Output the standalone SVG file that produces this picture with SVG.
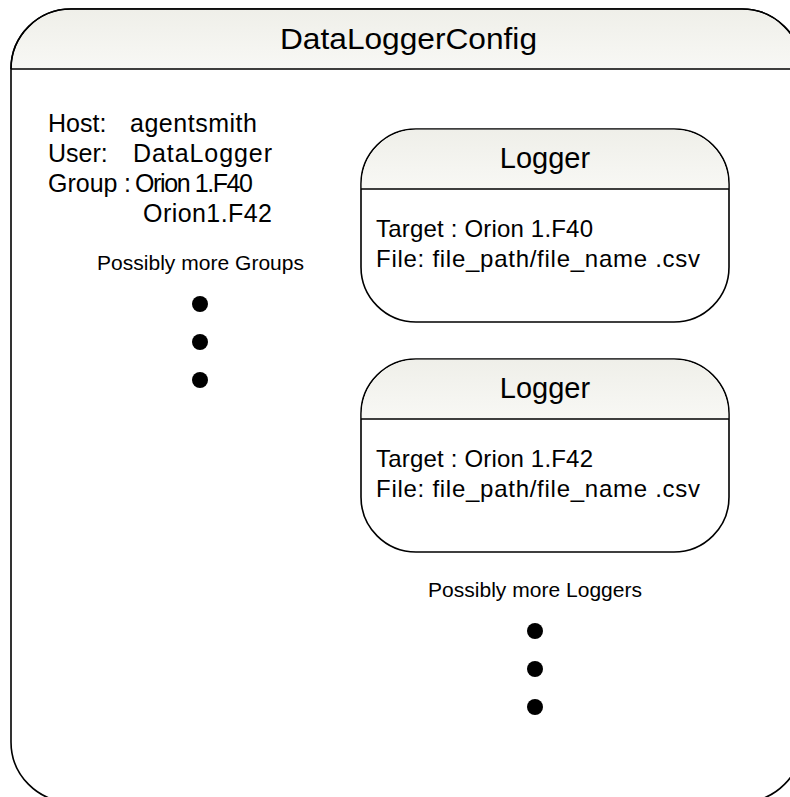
<svg xmlns="http://www.w3.org/2000/svg" width="790" height="797" viewBox="0 0 790 797">
  <defs>
    <linearGradient id="hdrFill" x1="0" y1="0" x2="0" y2="1">
      <stop offset="0" stop-color="#efefe9"/>
      <stop offset="1" stop-color="#f8f8f5"/>
    </linearGradient>
    <style>
      .frame { fill: #ffffff; stroke: #000000; stroke-width: 1.6; }
      .hdr { fill: url(#hdrFill); stroke: none; }
      .sep { stroke: #000000; stroke-width: 1.6; fill: none; }
      text { font-family: "Liberation Sans", Arial, sans-serif; fill: #000000; }
      .title { font-size: 30px; text-anchor: middle; }
      .name { font-size: 29px; text-anchor: middle; }
      .attr { font-size: 25px; }
      .field { font-size: 24px; }
      .note { font-size: 21px; }
      .dot { fill: #000000; }
    </style>
  </defs>

  <rect width="790" height="797" fill="#ffffff"/>

  <!-- container: DataLoggerConfig -->
  <g id="DataLoggerConfig">
    <rect class="frame" x="11" y="9" width="791" height="793" rx="60" ry="60"/>
    <path class="hdr" d="M11.8,69 A59.2,59.2 0 0 1 71,9.8 H742 A59.2,59.2 0 0 1 801.2,69 Z"/>
    <path class="sep" d="M11,69 H802 M11,69 A60,60 0 0 1 71,9 H742 A60,60 0 0 1 802,69"/>
    <text class="title" x="408.5" y="49" textLength="257" lengthAdjust="spacingAndGlyphs">DataLoggerConfig</text>

    <g id="config-attributes">
      <text class="attr" x="48" y="132">Host:</text>
      <text class="attr" x="130" y="132" textLength="127">agentsmith</text>
      <text class="attr" x="48" y="162">User:</text>
      <text class="attr" x="133" y="162" textLength="139">DataLogger</text>
      <text class="attr" x="48" y="192">Group</text>
      <text class="attr" x="124" y="192">:</text>
      <text class="attr" x="135" y="192" textLength="118">Orion 1.F40</text>
      <text class="attr" x="143" y="222" textLength="129">Orion1.F42</text>
    </g>

    <g id="more-groups">
      <text class="note" x="97" y="270" textLength="207">Possibly more Groups</text>
      <circle class="dot" cx="200" cy="304" r="8"/>
      <circle class="dot" cx="200" cy="342" r="8"/>
      <circle class="dot" cx="200" cy="380" r="8"/>
    </g>
  </g>

  <!-- logger for Orion 1.F40 -->
  <g id="logger-f40">
    <rect class="frame" x="361" y="129" width="368" height="193" rx="55" ry="55"/>
    <path class="hdr" d="M361.8,189 V184 A54.2,54.2 0 0 1 416,129.8 H674 A54.2,54.2 0 0 1 728.2,184 V189 Z"/>
    <path class="sep" d="M361,189 H729"/>
    <text class="name" x="545" y="168">Logger</text>
    <text class="field" x="376" y="237" textLength="217">Target : Orion 1.F40</text>
    <text class="field" x="376" y="267" textLength="324">File: file_path/file_name .csv</text>
  </g>

  <!-- logger for Orion 1.F42 -->
  <g id="logger-f42">
    <rect class="frame" x="361" y="359" width="368" height="193" rx="55" ry="55"/>
    <path class="hdr" d="M361.8,419 V414 A54.2,54.2 0 0 1 416,359.8 H674 A54.2,54.2 0 0 1 728.2,414 V419 Z"/>
    <path class="sep" d="M361,419 H729"/>
    <text class="name" x="545" y="398">Logger</text>
    <text class="field" x="376" y="467" textLength="217">Target : Orion 1.F42</text>
    <text class="field" x="376" y="497" textLength="324">File: file_path/file_name .csv</text>
  </g>

  <g id="more-loggers">
    <text class="note" x="428" y="597" textLength="214">Possibly more Loggers</text>
    <circle class="dot" cx="535" cy="631" r="8"/>
    <circle class="dot" cx="535" cy="669" r="8"/>
    <circle class="dot" cx="535" cy="707" r="8"/>
  </g>

  <g id="connectors"/>
</svg>
